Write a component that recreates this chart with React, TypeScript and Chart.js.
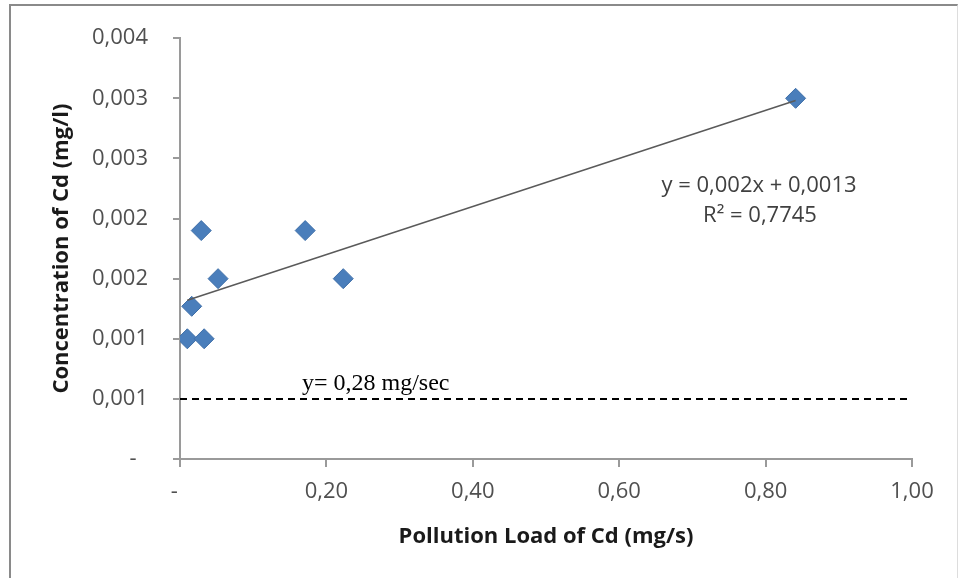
import React, { useEffect, useRef } from "react";
import { Chart, registerables } from "chart.js";

Chart.register(...registerables);

const LOAD_X = [0.010, 0.016, 0.029, 0.033, 0.052, 0.171, 0.223, 0.841];
const CONC_Y = [0.0010, 0.00127, 0.0019, 0.0010, 0.0015, 0.0019, 0.0015, 0.0030];

const Y_TICK_VALUES = [0, 0.0005, 0.001, 0.0015, 0.002, 0.0025, 0.003, 0.0035];
const Y_TICK_LABELS = ["-  ", "0,001", "0,001", "0,002", "0,002", "0,003", "0,003", "0,004"];
const X_TICK_VALUES = [0, 0.2, 0.4, 0.6, 0.8, 1.0];
const X_TICK_LABELS = ["-  ", "0,20", "0,40", "0,60", "0,80", "1,00"];

const TREND_SLOPE = 0.002;
const TREND_INTERCEPT = 0.0013;
const LIMIT_Y = 0.0005;

const EQ_TEXT = "y = 0,002x + 0,0013";
const R2_TEXT = "R\u00B2 = 0,7745";
const LIMIT_TEXT = "y= 0,28 mg/sec";
const X_TITLE = "Pollution Load of Cd (mg/s)";
const Y_TITLE = "Concentration of Cd (mg/l)";

const FONT = "'Open Sans', 'Liberation Sans', sans-serif";

export default function App() {
  const ref = useRef<HTMLCanvasElement | null>(null);

  useEffect(() => {
    if (!ref.current) return;
    const xMin = Math.min(...LOAD_X);
    const xMax = Math.max(...LOAD_X);
    const textPlugin = {
      id: "texts",
      afterDatasetsDraw(chart: any) {
        const ctx = chart.ctx;
        ctx.save();
        ctx.fillStyle = "#404040";
        ctx.font = `22px ${FONT}`;
        ctx.textAlign = "center";
        ctx.textBaseline = "middle";
        ctx.fillText(EQ_TEXT, 759, 186);
        ctx.fillText(R2_TEXT, 760, 216);
        ctx.fillStyle = "#000";
        ctx.font = "24px 'Liberation Serif', 'Times New Roman', serif";
        ctx.textAlign = "left";
        ctx.textBaseline = "alphabetic";
        ctx.fillText(LIMIT_TEXT, 302, 390);
        ctx.restore();
      },
    };

    const chart = new Chart(ref.current, {
      type: "scatter",
      data: {
        datasets: [
          {
            label: "trend",
            data: [
              { x: xMin, y: TREND_SLOPE * xMin + TREND_INTERCEPT },
              { x: xMax, y: TREND_SLOPE * xMax + TREND_INTERCEPT },
            ],
            showLine: true,
            borderColor: "#5a5a5a",
            borderWidth: 1.5,
            pointRadius: 0,
            order: 0,
          },
          {
            label: "limit",
            data: [X_TICK_VALUES[0], X_TICK_VALUES[X_TICK_VALUES.length - 1]].map((x) => ({ x, y: LIMIT_Y })),
            showLine: true,
            borderColor: "#000",
            borderWidth: 2,
            borderDash: [7, 5],
            pointRadius: 0,
            order: 2,
          },
          {
            label: "Cd",
            data: LOAD_X.map((x, i) => ({ x, y: CONC_Y[i] })),
            pointStyle: "rectRot",
            pointRadius: 10,
            backgroundColor: "#4a7ebb",
            borderColor: "#3f6fa8",
            borderWidth: 1,
            order: 1,
          },
        ],
      },
      options: {
        animation: false,
        responsive: false,
        devicePixelRatio: 1,
        layout: { padding: { top: 37, right: 46, left: 0, bottom: 0 } },
        plugins: { legend: { display: false }, tooltip: { enabled: false } },
        scales: {
          x: {
            type: "linear",
            min: 0,
            max: 1,
            afterFit: (s: any) => { s.height = 119; },
            afterBuildTicks: (s: any) => { s.ticks = X_TICK_VALUES.map((v) => ({ value: v })); },
            ticks: {
              callback: (_v: any, i: number) => X_TICK_LABELS[i],
              color: "#505050",
              font: { family: FONT, size: 22 },
              padding: 12,
              maxRotation: 0,
              autoSkip: false,
            },
            grid: { drawOnChartArea: false, drawTicks: true, tickLength: 8, color: "#9a9a9a", lineWidth: 2 },
            border: { color: "#9a9a9a", width: 2 },
            title: {
              display: true,
              text: X_TITLE,
              color: "#1a1a1a",
              font: { family: FONT, size: 22, weight: "bold" },
              padding: { top: 0, bottom: 28 },
            },
          },
          y: {
            type: "linear",
            min: 0,
            max: 0.0035,
            afterFit: (s: any) => { s.width = 180; },
            afterBuildTicks: (s: any) => { s.ticks = Y_TICK_VALUES.map((v) => ({ value: v })); },
            ticks: {
              callback: (_v: any, i: number) => Y_TICK_LABELS[i],
              color: "#505050",
              font: { family: FONT, size: 22 },
              padding: 25,
              autoSkip: false,
            },
            grid: { drawOnChartArea: false, drawTicks: true, tickLength: 7, color: "#9a9a9a", lineWidth: 2 },
            border: { color: "#9a9a9a", width: 2 },
            title: {
              display: true,
              text: Y_TITLE,
              color: "#1a1a1a",
              font: { family: FONT, size: 22, weight: "bold" },
              padding: { top: 49, bottom: 0 },
            },
          },
        },
      },
      plugins: [textPlugin],
    } as any);
    return () => chart.destroy();
  }, []);

  return (
    <div style={{ position: "fixed", left: 0, top: 0, width: 958, height: 578, background: "#fff", overflow: "hidden" }}>
      <div
        style={{
          position: "absolute",
          left: 9,
          top: 4,
          width: 949,
          height: 600,
          borderTop: "2px solid #8a8a8a",
          borderLeft: "2px solid #8a8a8a",
          borderRight: "1px solid #dddddd",
          boxSizing: "border-box",
        }}
      />
      <canvas ref={ref} width={958} height={578} style={{ position: "absolute", left: 0, top: 0, width: 958, height: 578 }} />
    </div>
  );
}
